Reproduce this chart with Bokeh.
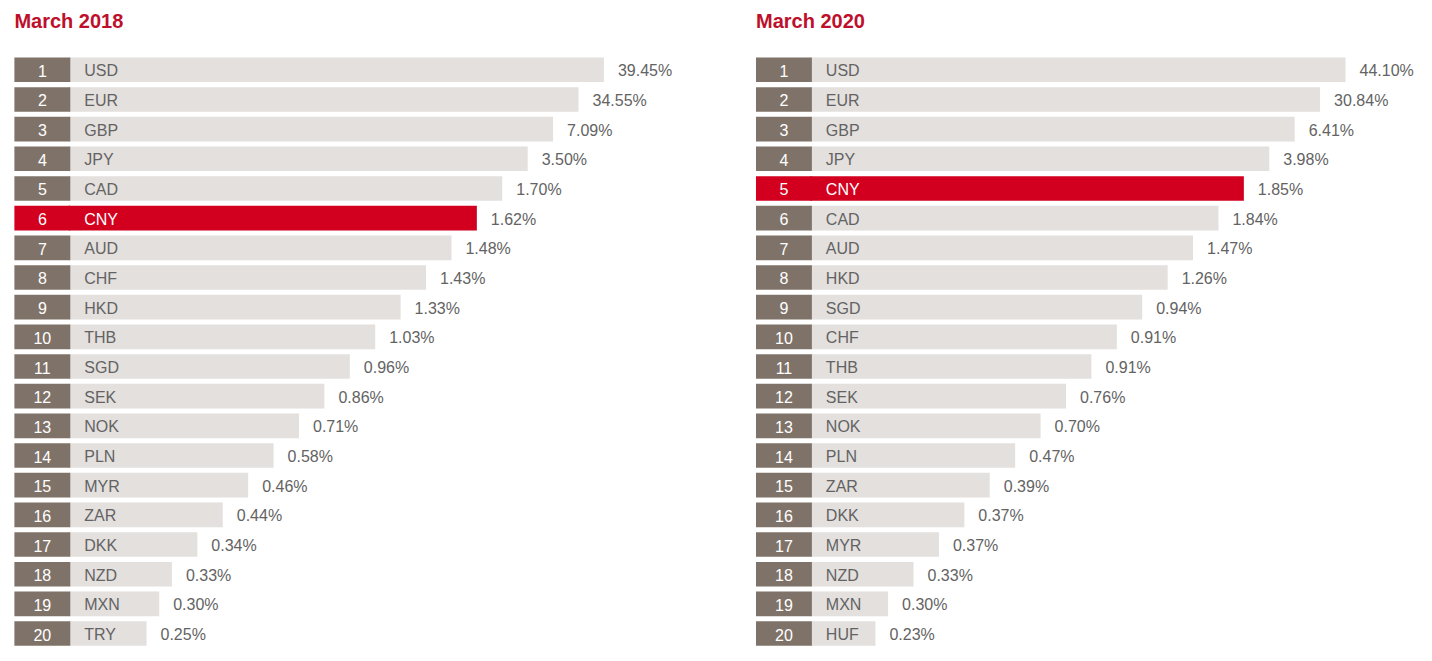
from bokeh.plotting import figure
from bokeh.models import ColumnDataSource, Range1d, Label
from bokeh.layouts import row
from bokeh.embed import file_html
from bokeh.resources import INLINE
from bokeh.core.properties import value

# ---------------- data ----------------
ranks = list(range(1, 21))

title_2018 = "March 2018"
currencies_2018 = ["USD", "EUR", "GBP", "JPY", "CAD", "CNY", "AUD", "CHF", "HKD", "THB",
                   "SGD", "SEK", "NOK", "PLN", "MYR", "ZAR", "DKK", "NZD", "MXN", "TRY"]
shares_2018 = [39.45, 34.55, 7.09, 3.50, 1.70, 1.62, 1.48, 1.43, 1.33, 1.03,
               0.96, 0.86, 0.71, 0.58, 0.46, 0.44, 0.34, 0.33, 0.30, 0.25]
# drawn bar lengths (the bars show rank, not share)
bar_len_2018 = [20, 19, 18, 17, 16, 15, 14, 13, 12, 11,
                10, 9, 8, 7, 6, 5, 4, 3, 2.5, 2]

title_2020 = "March 2020"
currencies_2020 = ["USD", "EUR", "GBP", "JPY", "CNY", "CAD", "AUD", "HKD", "SGD", "CHF",
                   "THB", "SEK", "NOK", "PLN", "ZAR", "DKK", "MYR", "NZD", "MXN", "HUF"]
shares_2020 = [44.10, 30.84, 6.41, 3.98, 1.85, 1.84, 1.47, 1.26, 0.94, 0.91,
               0.91, 0.76, 0.70, 0.47, 0.39, 0.37, 0.37, 0.33, 0.30, 0.23]
bar_len_2020 = [20, 19, 18, 17, 16, 15, 14, 13, 12, 11,
                10, 9, 8, 7, 6, 5, 4, 3, 2, 1.5]

highlight = "CNY"

# ---------------- style ----------------
FONT = "Liberation Sans"
BOX = "#7f7369"
GRAY = "#e3e0de"
RED = "#d2001e"
TITLE_RED = "#be0f2c"
TEXT = "#636363"

HEIGHT = 653
PX_PER_UNIT = 25.41
PX_PER_ROW = 29.67
BOX_LEFT, BOX_RIGHT, BAR_LEFT = -3.2, -1.0, -0.96


def panel(title, cur, shares, lens, width, x_start):
    y_top = 1 - 69.3 / PX_PER_ROW
    y_bot = y_top + HEIGHT / PX_PER_ROW
    p = figure(width=width, height=HEIGHT, output_backend="svg", toolbar_location=None,
               x_range=Range1d(x_start, x_start + width / PX_PER_UNIT),
               y_range=Range1d(y_bot, y_top),
               x_axis_type=None, y_axis_type=None, min_border=0)
    p.grid.visible = False
    p.outline_line_color = None
    p.background_fill_color = "white"
    p.border_fill_color = "white"

    is_hi = [c == highlight for c in cur]
    src = ColumnDataSource(dict(
        rank=ranks,
        rank_txt=[str(r) for r in ranks],
        cur=cur,
        share=shares,
        share_txt=["%.2f%%" % s for s in shares],
        length=lens,
        bar_color=[RED if h else GRAY for h in is_hi],
        box_color=[RED if h else BOX for h in is_hi],
        cur_color=["white" if h else TEXT for h in is_hi],
    ))
    p.hbar(y="rank", left=BAR_LEFT - 0.1, right="length", height=0.83,
           fill_color="bar_color", line_color=None, source=src)
    p.hbar(y="rank", left=BOX_LEFT, right=BOX_RIGHT, height=0.83,
           fill_color="box_color", line_color=None, source=src)
    p.text(x=(BOX_LEFT + BOX_RIGHT) / 2, y="rank", text="rank_txt", source=src,
           text_font=value(FONT), text_font_size="16px", text_color="white",
           text_align="center", text_baseline="middle", y_offset=1)
    p.text(x=-0.45, y="rank", text="cur", source=src,
           text_font=value(FONT), text_font_size="16px", text_color="cur_color",
           text_align="left", text_baseline="middle", y_offset=1)
    p.text(x="length", y="rank", text="share_txt", source=src,
           text_font=value(FONT), text_font_size="16px", text_color=TEXT,
           text_align="left", text_baseline="middle", x_offset=14, y_offset=1)
    p.add_layout(Label(x=BOX_LEFT, y=1 - 49.0 / PX_PER_ROW, text=title,
                       text_font=FONT, text_font_size="20px", text_font_style="bold",
                       text_color=TITLE_RED, text_baseline="alphabetic"))
    return p


left = panel(title_2018, currencies_2018, shares_2018, bar_len_2018, 740, (0 - 95.2) / PX_PER_UNIT)
right = panel(title_2020, currencies_2020, shares_2020, bar_len_2020, 684, (740 - 836.8) / PX_PER_UNIT)

layout = row(left, right, spacing=0)
open("out.html", "w").write(file_html(layout, INLINE))
